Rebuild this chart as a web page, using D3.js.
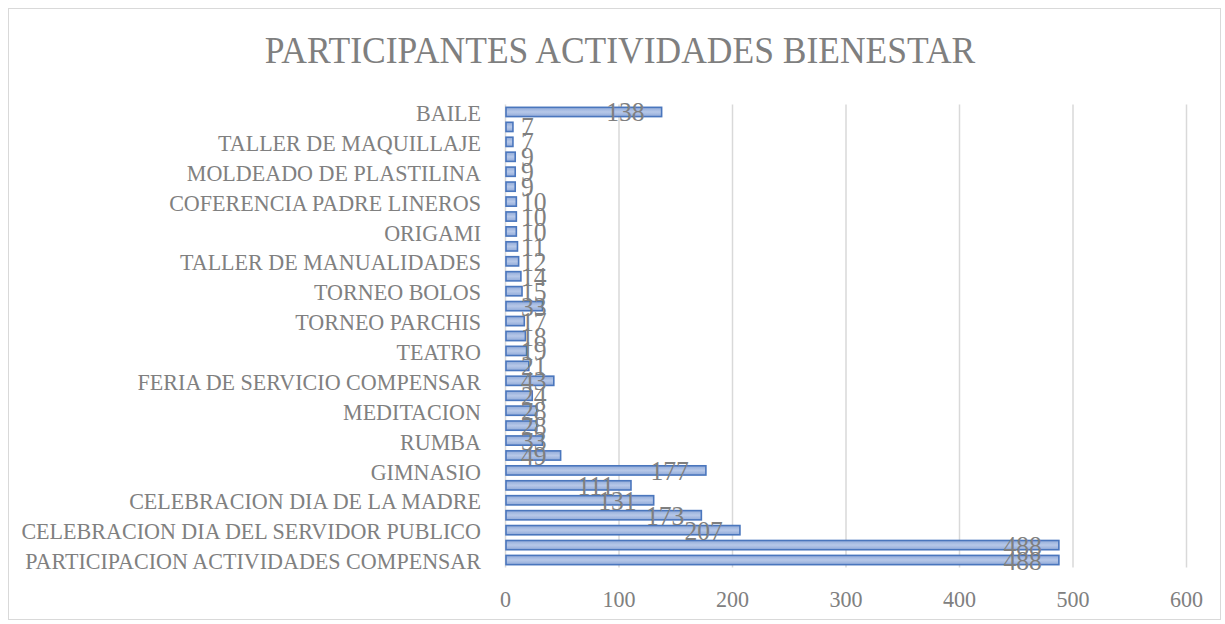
<!DOCTYPE html>
<html>
<head>
<meta charset="utf-8">
<script src="https://cdn.jsdelivr.net/npm/d3@7"></script>
<style>
  html, body { margin: 0; padding: 0; background: #ffffff; }
  svg { display: block; }
</style>
</head>
<body>
<svg id="chart" width="1225" height="624"></svg>
<script>
// Activity names, bottom to top; blank entries are rows whose name is not printed on the axis
const categories = [
  "PARTICIPACION ACTIVIDADES COMPENSAR", "",
  "CELEBRACION DIA DEL SERVIDOR PUBLICO", "",
  "CELEBRACION DIA DE LA MADRE", "",
  "GIMNASIO", "",
  "RUMBA", "",
  "MEDITACION", "",
  "FERIA DE SERVICIO COMPENSAR", "",
  "TEATRO", "",
  "TORNEO PARCHIS", "",
  "TORNEO BOLOS", "",
  "TALLER DE MANUALIDADES", "",
  "ORIGAMI", "",
  "COFERENCIA PADRE LINEROS", "",
  "MOLDEADO DE PLASTILINA", "",
  "TALLER DE MAQUILLAJE", "",
  "BAILE"
];

// Participants per activity, same order as categories
const participants = [
  488, 488, 207, 173, 131, 111, 177, 49, 33, 28,
  28, 24, 43, 21, 19, 18, 17, 33, 15, 14,
  12, 11, 10, 10, 10, 9, 9, 9, 7, 7,
  138
];

const xTicks = [0, 100, 200, 300, 400, 500, 600];
const chartTitle = "PARTICIPANTES ACTIVIDADES BIENESTAR";

const W = 1225, H = 624;
const plot = { left: 505, right: 1186, top: 104.5, bottom: 567.5 };
const fontFamily = "'Liberation Serif', 'Times New Roman', serif";
const squeeze = 0.92;          // horizontal compression of the serif lettering
const textGrey = "#808080";

const svg = d3.select("#chart");

// gradient for the bar fill
const defs = svg.append("defs");
const grad = defs.append("linearGradient")
  .attr("id", "barFill").attr("x1", 0).attr("y1", 0).attr("x2", 0).attr("y2", 1);
grad.append("stop").attr("offset", "0%").attr("stop-color", "#90aad9");
grad.append("stop").attr("offset", "50%").attr("stop-color", "#b7c8e8");
grad.append("stop").attr("offset", "100%").attr("stop-color", "#90aad9");

// outer chart frame
svg.append("rect")
  .attr("x", 8.5).attr("y", 8.5).attr("width", 1212).attr("height", 611)
  .attr("fill", "#ffffff").attr("stroke", "#d9d9d9").attr("stroke-width", 1);

const idx = d3.range(categories.length);

const x = d3.scaleLinear()
  .domain([xTicks[0], xTicks[xTicks.length - 1]])
  .range([plot.left, plot.right]);

const y = d3.scaleBand()
  .domain(idx)
  .range([plot.bottom, plot.top])
  .paddingInner(0.38)
  .paddingOuter(0.19);

// vertical gridlines
svg.append("g")
  .selectAll("line")
  .data(xTicks)
  .join("line")
  .attr("x1", d => x(d) + 0.5).attr("x2", d => x(d) + 0.5)
  .attr("y1", plot.top).attr("y2", plot.bottom)
  .attr("stroke", "#d9d9d9").attr("stroke-width", 1.5);

// value axis labels
const xAxis = svg.append("g")
  .attr("transform", `translate(0,${plot.bottom})`)
  .call(d3.axisBottom(x).tickValues(xTicks).tickSize(0).tickPadding(0));
xAxis.select(".domain").remove();
xAxis.selectAll("text")
  .attr("font-family", fontFamily)
  .attr("font-size", 24)
  .attr("fill", textGrey)
  .attr("dy", 0)
  .attr("y", 0)
  .attr("transform", `translate(0,39) scale(${squeeze},1)`);

// category axis labels
const yAxis = svg.append("g")
  .attr("transform", `translate(${plot.left},0)`)
  .call(d3.axisLeft(y).tickSize(0).tickPadding(0).tickFormat(i => categories[i]));
yAxis.select(".domain").remove();
yAxis.selectAll("text")
  .attr("font-family", fontFamily)
  .attr("font-size", 24)
  .attr("fill", textGrey)
  .attr("dy", "0.38em")
  .attr("x", 0)
  .attr("transform", `translate(-24,0) scale(${squeeze},1)`);

// bars
svg.append("g")
  .selectAll("rect")
  .data(idx)
  .join("rect")
  .attr("x", x(0) + 1)
  .attr("y", i => y(i))
  .attr("width", i => Math.max(0, x(participants[i]) - x(0) - 1))
  .attr("height", y.bandwidth())
  .attr("fill", "url(#barFill)")
  .attr("stroke", "#4a76bd")
  .attr("stroke-width", 1.6);

// value labels, right-aligned just inside the bar end but never before the start margin
const labelScale = 0.95;
const labels = svg.append("g")
  .selectAll("text")
  .data(idx)
  .join("text")
  .attr("font-family", fontFamily)
  .attr("font-size", 27)
  .attr("fill", "#7f7f7f")
  .attr("text-anchor", "start")
  .text(i => participants[i]);

labels.each(function (i) {
  const w = this.getComputedTextLength() * labelScale;
  const end = x(participants[i]);
  const left = Math.max(x(0) + 16, end - 17 - w);
  const cy = y(i) + y.bandwidth() / 2;
  d3.select(this).attr("transform", `translate(${left},${cy + 9.5}) scale(${labelScale},1)`);
});

// title
svg.append("text")
  .attr("font-family", fontFamily)
  .attr("font-size", 37)
  .attr("fill", "#7f7f7f")
  .attr("text-anchor", "middle")
  .attr("transform", `translate(620,63) scale(0.96,1)`)
  .text(chartTitle);
</script>
</body>
</html>
